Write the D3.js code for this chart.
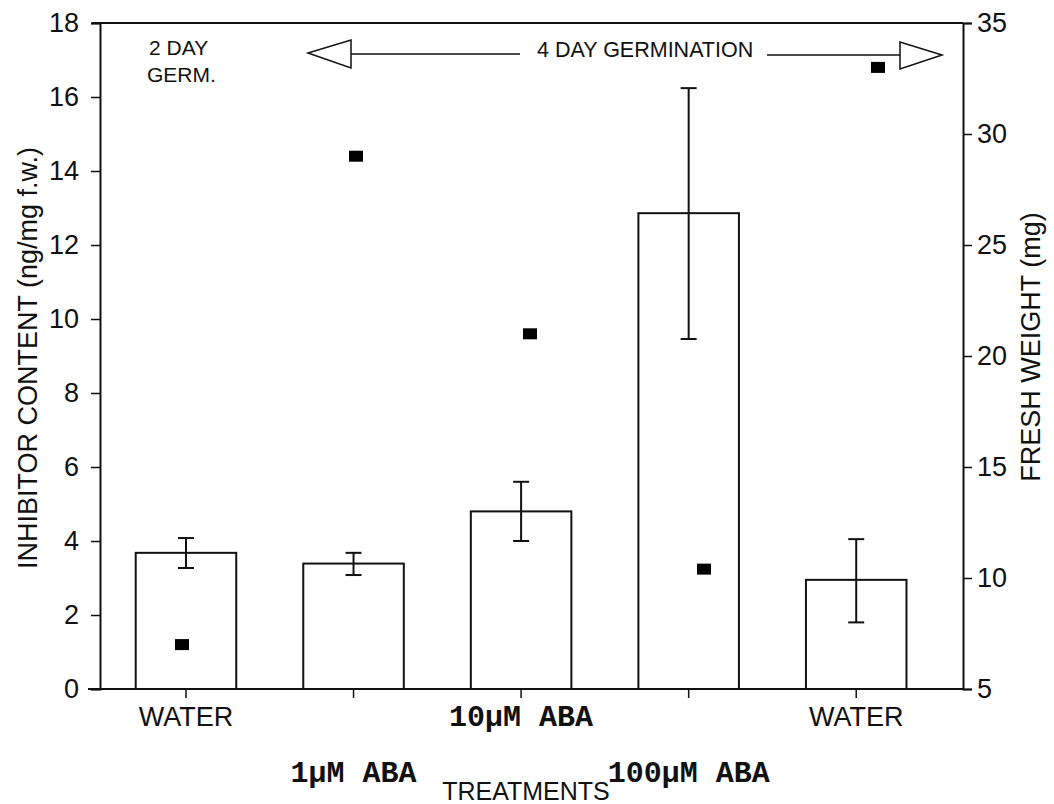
<!DOCTYPE html>
<html>
<head>
<meta charset="utf-8">
<script src="https://cdn.jsdelivr.net/npm/d3@7"></script>
<style>
  html, body { margin: 0; padding: 0; background: #fff; }
  svg { display: block; }
  text { fill: #111; }
</style>
</head>
<body>
<svg id="chart" width="1054" height="804"></svg>
<script>
// Treatments along the x axis
const categories = ["WATER", "1µM ABA", "10µM ABA", "100µM ABA", "WATER (4 day)"];
const categoryLabels = ["WATER", "1\u00B5M ABA", "10\u00B5M ABA", "100\u00B5M ABA", "WATER"];
// Inhibitor content (left axis, ng/mg f.w.), with error bar limits
const inhibitor = [3.68, 3.39, 4.8, 12.86, 2.95];
const inhibitorLow = [3.27, 3.08, 4.0, 9.46, 1.8];
const inhibitorHigh = [4.08, 3.68, 5.6, 16.24, 4.05];
// Fresh weight (right axis, mg)
const freshWeight = [7.0, 29.0, 21.0, 10.4, 33.0];
// Tick labels
const leftTicks = [0, 2, 4, 6, 8, 10, 12, 14, 16, 18];
const rightTicks = [5, 10, 15, 20, 25, 30, 35];

const svg = d3.select("#chart");
const plotLeft = 100, plotRight = 963, plotTop = 23, plotBottom = 689;
const sans = "'Liberation Sans', Arial, sans-serif";
const mono = "'Liberation Mono', 'Courier New', monospace";
const ink = "#111";

const yL = d3.scaleLinear().domain([0, 18]).range([plotBottom, plotTop]);
const yR = d3.scaleLinear().domain([5, 35]).range([plotBottom, plotTop]);
const x = d3.scaleBand().domain(categories).range([102.2, 940]).paddingInner(0.4).paddingOuter(0.2);
const xPts = d3.scalePoint().domain(categories).range([182, 878]);
const center = c => x(c) + x.bandwidth() / 2;

// Bars (open outlines)
svg.append("g").selectAll("rect").data(categories).join("rect")
  .attr("x", d => x(d))
  .attr("y", (d, i) => yL(inhibitor[i]))
  .attr("width", x.bandwidth())
  .attr("height", (d, i) => plotBottom - yL(inhibitor[i]))
  .attr("fill", "none").attr("stroke", ink).attr("stroke-width", 2);

// Error bars
const eb = svg.append("g").attr("stroke", ink).attr("stroke-width", 2);
categories.forEach((c, i) => {
  const cx = center(c);
  eb.append("line").attr("x1", cx).attr("x2", cx)
    .attr("y1", yL(inhibitorLow[i])).attr("y2", yL(inhibitorHigh[i]));
  [inhibitorLow[i], inhibitorHigh[i]].forEach(v => {
    eb.append("line").attr("x1", cx - 8).attr("x2", cx + 8)
      .attr("y1", yL(v)).attr("y2", yL(v));
  });
});

// Fresh weight markers
svg.append("g").selectAll("rect").data(categories).join("rect")
  .attr("x", d => xPts(d) - 7)
  .attr("y", (d, i) => yR(freshWeight[i]) - 5.5)
  .attr("width", 14).attr("height", 11)
  .attr("fill", "#000");

// Frame lines
svg.append("line").attr("x1", 92).attr("x2", plotRight).attr("y1", plotTop).attr("y2", plotTop)
  .attr("stroke", ink).attr("stroke-width", 2);
svg.append("line").attr("x1", 88).attr("x2", plotRight).attr("y1", plotBottom).attr("y2", plotBottom)
  .attr("stroke", ink).attr("stroke-width", 2);

// Left axis
const gl = svg.append("g").attr("transform", `translate(${plotLeft},0)`)
  .call(d3.axisLeft(yL).tickValues(leftTicks).tickSize(9).tickPadding(12));
gl.select(".domain").attr("stroke", ink).attr("stroke-width", 2);
gl.selectAll(".tick line").attr("stroke", ink).attr("stroke-width", 1.5);
gl.selectAll(".tick text").attr("font-family", sans).attr("font-size", 27).attr("fill", ink);

// Right axis
const gr = svg.append("g").attr("transform", `translate(${plotRight},0)`)
  .call(d3.axisRight(yR).tickValues(rightTicks).tickSize(9).tickPadding(5));
gr.select(".domain").attr("stroke", ink).attr("stroke-width", 2);
gr.selectAll(".tick line").attr("stroke", ink).attr("stroke-width", 1.5);
gr.selectAll(".tick text").attr("font-family", sans).attr("font-size", 27).attr("fill", ink);

// Bottom axis ticks and staggered category labels
const gb = svg.append("g").attr("transform", `translate(0,${plotBottom})`);
categories.forEach((c, i) => {
  const cx = center(c);
  gb.append("line").attr("x1", cx).attr("x2", cx).attr("y1", 0).attr("y2", 9)
    .attr("stroke", ink).attr("stroke-width", 1.5);
  const isAba = i === 1 || i === 2 || i === 3;
  const row2 = i === 1 || i === 3;
  gb.append("text")
    .attr("x", cx).attr("y", row2 ? 93 : 37)
    .attr("text-anchor", "middle")
    .attr("font-family", isAba ? mono : sans)
    .attr("font-weight", isAba ? "bold" : "normal")
    .attr("font-size", isAba ? 30 : 27)
    .text(categoryLabels[i]);
});

// Axis titles
svg.append("text").attr("x", 526).attr("y", 800).attr("text-anchor", "middle")
  .attr("font-family", sans).attr("font-size", 25).text("TREATMENTS");
svg.append("text").attr("transform", "translate(37,358) rotate(-90)")
  .attr("text-anchor", "middle").attr("font-family", sans).attr("font-size", 27)
  .text("INHIBITOR CONTENT (ng/mg f.w.)");
svg.append("text").attr("transform", "translate(1040,347) rotate(-90)")
  .attr("text-anchor", "middle").attr("font-family", sans).attr("font-size", 27)
  .text("FRESH WEIGHT (mg)");

// Germination period annotations
svg.append("text").attr("x", 149).attr("y", 55)
  .attr("font-family", sans).attr("font-size", 21).text("2 DAY");
svg.append("text").attr("x", 147).attr("y", 82)
  .attr("font-family", sans).attr("font-size", 21).text("GERM.");
svg.append("text").attr("x", 537).attr("y", 57)
  .attr("font-family", sans).attr("font-size", 21.5).text("4 DAY GERMINATION");

const ar = svg.append("g").attr("stroke", ink).attr("stroke-width", 1.5).attr("fill", "#fff");
ar.append("line").attr("x1", 351).attr("x2", 520).attr("y1", 54).attr("y2", 54);
ar.append("line").attr("x1", 767).attr("x2", 900).attr("y1", 55).attr("y2", 55);
ar.append("path").attr("d", "M308,53 L351,40 L351,68 Z");
ar.append("path").attr("d", "M942,55 L900,42 L900,69 Z");
</script>
</body>
</html>
